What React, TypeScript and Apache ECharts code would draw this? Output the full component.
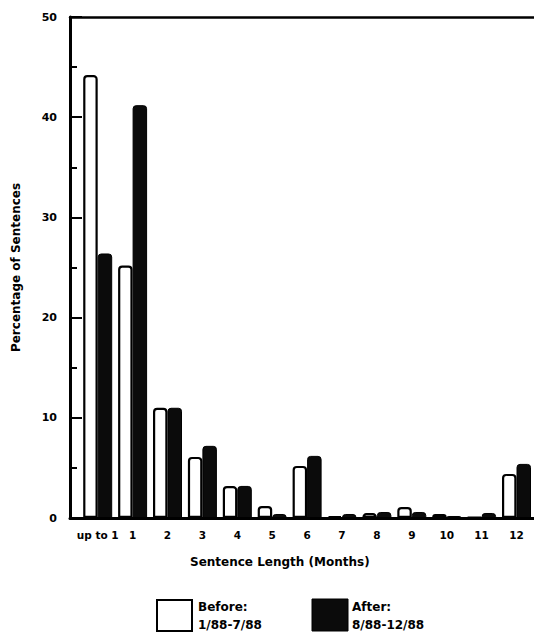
import React, { useEffect, useRef } from "react";
import * as echarts from "echarts";

const categories = ["up to 1", "1", "2", "3", "4", "5", "6", "7", "8", "9", "10", "11", "12"];
const beforeValues = [44.2, 25.2, 11.0, 6.1, 3.2, 1.2, 5.2, 0.2, 0.5, 1.1, 0.4, 0.1, 4.4];
const afterValues = [26.4, 41.2, 11.0, 7.2, 3.2, 0.4, 6.2, 0.4, 0.6, 0.6, 0.2, 0.5, 5.4];
const yTicks = { min: 0, max: 50, interval: 10 };
const yAxisTitle = "Percentage of Sentences";
const xAxisTitle = "Sentence Length (Months)";
const legendBefore = ["Before:", "1/88-7/88"];
const legendAfter = ["After:", "8/88-12/88"];

const FONT = "'DejaVu Sans', 'Liberation Sans', Arial, sans-serif";

export default function App() {
  const ref = useRef<HTMLDivElement>(null);
  useEffect(() => {
    if (!ref.current) return;
    const chart = echarts.init(ref.current, null, { renderer: "svg" });
    const textStyle = { fontFamily: FONT, fontWeight: "bold" as const, color: "#000" };
    chart.setOption({
      animation: false,
      backgroundColor: "#fff",
      grid: [
        { left: 80.25, top: 17, width: 453.7, height: 501 },
        { left: 70, top: 17, right: 0, height: 501 },
      ],
      xAxis: [
        {
          type: "category",
          gridIndex: 0,
          data: categories,
          axisLine: { show: false },
          axisTick: { show: false },
          axisLabel: { ...textStyle, fontSize: 10.5, margin: 11, interval: 0 },
        },
        {
          type: "value",
          gridIndex: 1,
          position: "bottom",
          min: 0,
          max: 1,
          axisLine: { show: true, lineStyle: { color: "#000", width: 3 } },
          axisTick: { show: false },
          axisLabel: { show: false },
          splitLine: { show: false },
        },
        {
          type: "value",
          gridIndex: 1,
          position: "top",
          min: 0,
          max: 1,
          axisLine: { show: true, lineStyle: { color: "#000", width: 2.5 } },
          axisTick: { show: false },
          axisLabel: { show: false },
          splitLine: { show: false },
        },
      ],
      yAxis: [
        {
          type: "value",
          gridIndex: 0,
          min: yTicks.min,
          max: yTicks.max,
          show: false,
        },
        {
          type: "value",
          gridIndex: 1,
          min: yTicks.min,
          max: yTicks.max,
          interval: yTicks.interval,
          name: yAxisTitle,
          nameLocation: "middle",
          nameGap: 48,
          nameTextStyle: { ...textStyle, fontSize: 12 },
          axisLine: { show: true, lineStyle: { color: "#000", width: 3 } },
          axisTick: { show: true, inside: true, length: 12, lineStyle: { color: "#000", width: 2 } },
          minorTick: { show: true, splitNumber: 2, length: 7, lineStyle: { color: "#000", width: 2 } },
          axisLabel: { ...textStyle, fontSize: 11, margin: 13 },
          splitLine: { show: false },
        },
      ],
      series: [
        {
          name: "Before",
          type: "bar",
          xAxisIndex: 0,
          yAxisIndex: 0,
          data: beforeValues,
          barWidth: 14.5,
          barGap: "0%",
          itemStyle: { color: "#fff", borderColor: "#000", borderWidth: 2.2, borderRadius: [3, 3, 0, 0] },
        },
        {
          name: "After",
          type: "bar",
          xAxisIndex: 0,
          yAxisIndex: 0,
          data: afterValues,
          barWidth: 14.5,
          barGap: "0%",
          itemStyle: { color: "#0b0b0b", borderColor: "#000", borderWidth: 1, borderRadius: [3, 3, 0, 0] },
        },
      ],
      graphic: [
        {
          type: "text",
          left: 190,
          top: 556,
          style: { text: xAxisTitle, font: `bold 12px ${FONT}`, fill: "#000" },
        },
        {
          type: "rect",
          shape: { x: 157, y: 600, width: 35, height: 31 },
          style: { fill: "#fff", stroke: "#000", lineWidth: 2 },
        },
        {
          type: "text",
          left: 198,
          top: 598,
          style: { text: legendBefore.join("\n"), font: `bold 12px ${FONT}`, lineHeight: 18, fill: "#000" },
        },
        {
          type: "rect",
          shape: { x: 312, y: 599, width: 36, height: 32 },
          style: { fill: "#0b0b0b", stroke: "#000", lineWidth: 1 },
        },
        {
          type: "text",
          left: 352,
          top: 598,
          style: { text: legendAfter.join("\n"), font: `bold 12px ${FONT}`, lineHeight: 18, fill: "#000" },
        },
      ],
    });
    return () => chart.dispose();
  }, []);
  return <div ref={ref} style={{ width: 534, height: 635, position: "absolute", left: 0, top: 0 }} />;
}
